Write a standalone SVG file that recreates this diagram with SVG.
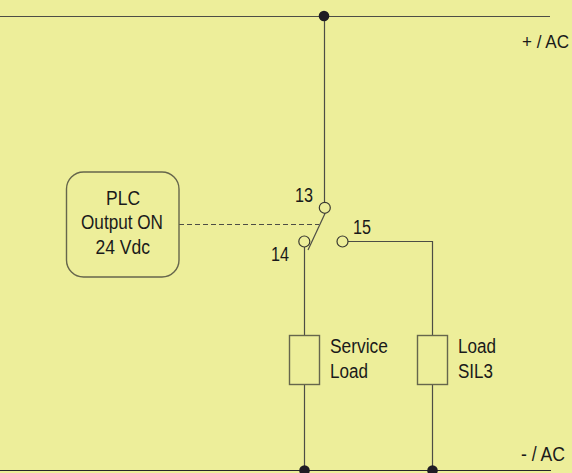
<svg xmlns="http://www.w3.org/2000/svg" width="572" height="473" viewBox="0 0 572 473">
<style>
text{font-family:"Liberation Sans",Arial,sans-serif;font-size:20px;fill:#1a1a1a}
.w{fill:none;stroke:#4d4d45;stroke-width:1.2}
.o{fill:#edee9a;stroke:#3a3a32;stroke-width:1.2}
.b{fill:#edee9a;stroke:#66664c;stroke-width:1.4}
.d{fill:#1f1c24}
</style>
<rect width="572" height="473" fill="#edee9a"/>
<g id="connectors">
<path class="w" d="M0 16.500H550"/>
<path d="M0 470.500H551" fill="none" stroke="#26262a" stroke-width="1.200"/>
<path class="w" d="M324.500 16.500V202"/>
<path class="w" d="M304.500 247V470"/>
<path class="w" d="M348 241.500H432.500V470"/>
<path class="w" d="M325 213.500L308 250"/>
<path class="w" d="M179 224.500H319" stroke-dasharray="5 3"/>
</g>
<g id="top-rail"><circle class="d" cx="324" cy="16" r="5.300"/><text x="522" y="48" style="font-size:17.500px" textLength="47" lengthAdjust="spacingAndGlyphs">+ / AC</text></g>
<g id="bottom-rail"><circle class="d" cx="304.500" cy="470.500" r="5.300"/><circle class="d" cx="432.500" cy="470.500" r="5.300"/><text x="521" y="460.500" textLength="44" lengthAdjust="spacingAndGlyphs">- / AC</text></g>
<g id="plc"><rect class="b" x="66.500" y="172" width="112.500" height="105" rx="17"/>
<text x="106" y="205" textLength="34" lengthAdjust="spacingAndGlyphs">PLC</text><text x="81" y="229" textLength="82" lengthAdjust="spacingAndGlyphs">Output ON</text><text x="95.500" y="254" textLength="54.500" lengthAdjust="spacingAndGlyphs">24 Vdc</text></g>
<g id="contact-13"><circle class="o" cx="324.800" cy="207.800" r="5.500"/><text x="295" y="202" textLength="18" lengthAdjust="spacingAndGlyphs">13</text></g>
<g id="contact-14"><circle class="o" cx="304.300" cy="241.500" r="5.500"/><text x="271" y="261" textLength="18" lengthAdjust="spacingAndGlyphs">14</text></g>
<g id="contact-15"><circle class="o" cx="342.500" cy="241.500" r="5.500"/><text x="353" y="234" textLength="18" lengthAdjust="spacingAndGlyphs">15</text></g>
<g id="service-load"><rect class="b" x="289.500" y="335.500" width="30" height="49"/><text x="330" y="353" textLength="58" lengthAdjust="spacingAndGlyphs">Service</text><text x="330" y="378" textLength="38" lengthAdjust="spacingAndGlyphs">Load</text></g>
<g id="load-sil3"><rect class="b" x="417.500" y="335.500" width="30" height="49"/><text x="458" y="353" textLength="38" lengthAdjust="spacingAndGlyphs">Load</text><text x="458" y="378" textLength="35" lengthAdjust="spacingAndGlyphs">SIL3</text></g>
</svg>
